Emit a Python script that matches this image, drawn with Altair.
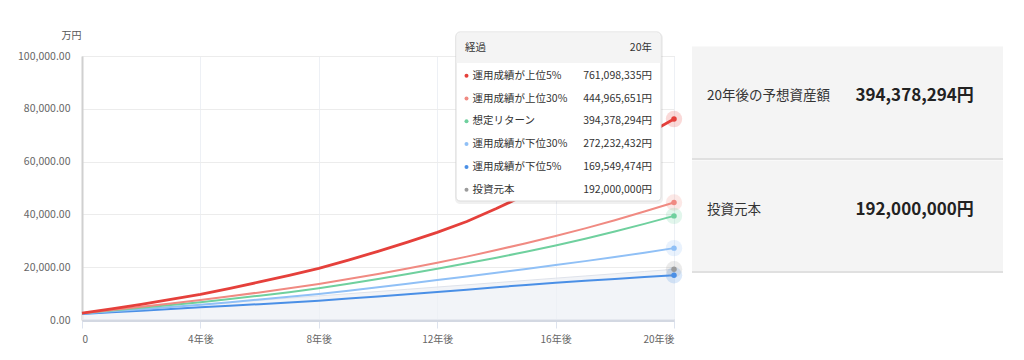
import altair as alt
import pandas as pd

# ---- data (万円) ----
years = list(range(21))
top5 = [2600, 4250, 5950, 7800, 9730, 12000, 14400, 16900, 19580, 22700, 26000,
        29500, 33200, 37300, 42200, 47500, 52800, 58300, 63900, 69800, 76110]
top30 = [2600, 3800, 5000, 6250, 7580, 9000, 10450, 12000, 13640, 15500, 17450,
         19500, 21700, 24000, 26500, 29100, 31820, 34700, 37800, 41100, 44497]
expected = [2600, 3600, 4600, 5650, 6750, 7950, 9200, 10550, 12000, 13700, 15500,
            17400, 19400, 21500, 23600, 25850, 28200, 30800, 33500, 36400, 39438]
low30 = [2500, 3300, 4100, 4950, 5800, 6750, 7750, 8800, 9850, 11100, 12400,
         13750, 15150, 16500, 17900, 19350, 20830, 22300, 23850, 25500, 27223]
low5 = [2300, 2900, 3500, 4150, 4800, 5400, 6000, 6650, 7320, 8100, 8900,
        9750, 10600, 11500, 12400, 13300, 14140, 14850, 15550, 16250, 16955]
principal = [2400, 3240, 4080, 4920, 5760, 6600, 7440, 8280, 9120, 9960, 10800,
             11640, 12480, 13320, 14160, 15000, 15840, 16680, 17520, 18360, 19200]

series_names = ["運用成績が上位5%", "運用成績が上位30%", "想定リターン",
                "運用成績が下位30%", "運用成績が下位5%", "投資元本"]
series_colors = ["#e5403b", "#f08a82", "#6fd09e", "#90c0f6", "#4a8fe6", "#9b9b9b"]
series_widths = [2.8, 2, 2, 2, 2, 1]
tooltip_values = ["761,098,335円", "444,965,651円", "394,378,294円",
                  "272,232,432円", "169,549,474円", "192,000,000円"]
x_ticks = [0, 4, 8, 12, 16, 20]
y_ticks = [0, 20000, 40000, 60000, 80000, 100000]
panel_labels = ["20年後の予想資産額", "投資元本"]
panel_values = ["394,378,294円", "192,000,000円"]

FONT = "Noto Sans CJK JP"
W, H = 592, 264

all_series = [top5, top30, expected, low30, low5, principal]
rows = []
for name, vals in zip(series_names, all_series):
    for yr, v in zip(years, vals):
        rows.append({"year": yr, "series": name, "value": v})
df = pd.DataFrame(rows)

xscale = alt.Scale(domain=[0, 20], nice=False)
yscale = alt.Scale(domain=[0, 100000], nice=False)
cscale = alt.Scale(domain=series_names, range=series_colors)

xenc = alt.X("year:Q", scale=xscale,
             axis=alt.Axis(values=x_ticks, title=None,
                           labelExpr="datum.value == 0 ? '0' : datum.value + '年後'",
                           grid=True, gridColor="#edf0f5", gridWidth=1,
                           domainColor="#d3d8e2", domainWidth=3,
                           tickColor="#dde3ee", tickSize=8, tickWidth=1,
                           labelColor="#666", labelFontSize=10, labelPadding=6,
                           labelFont=FONT))
yenc = alt.Y("value:Q", scale=yscale,
             axis=alt.Axis(values=y_ticks, format=",.2f", title="万円",
                           titleAngle=0, titleX=-1, titleY=-21, titleAlign="right",
                           titleBaseline="middle", titleFontSize=10,
                           titleFontWeight="normal", titleColor="#555", titleFont=FONT,
                           grid=True, gridColor="#ececec", gridWidth=1,
                           domainColor="#d0d0d0", domainWidth=2, ticks=False,
                           labelColor="#666", labelFontSize=10.5, labelPadding=12,
                           labelFont=FONT))

base = alt.Chart(df)

area = base.transform_filter(alt.datum.series == "投資元本").mark_area(
    color="#edf0f5", line={"color": "#dfe3eb", "strokeWidth": 1}
).encode(x=xenc, y=yenc, y2=alt.datum(0))

layers = [area]
for name, w in zip(["運用成績が下位5%", "運用成績が下位30%", "想定リターン",
                    "運用成績が上位30%", "運用成績が上位5%"],
                   [2, 2, 2, 2, 2.8]):
    layers.append(
        base.transform_filter(alt.datum.series == name).mark_line(strokeWidth=w).encode(
            x="year:Q", y="value:Q",
            color=alt.Color("series:N", scale=cscale, legend=None))
    )

ends = base.transform_filter(alt.datum.year == 20)
halo = ends.mark_circle(size=270, opacity=0.2).encode(
    x="year:Q", y="value:Q", color=alt.Color("series:N", scale=cscale, legend=None))
dots = ends.mark_circle(size=30, opacity=1).encode(
    x="year:Q", y="value:Q", color=alt.Color("series:N", scale=cscale, legend=None))
layers += [halo, dots]

one = alt.Chart(pd.DataFrame({"a": [0]}))

# tooltip box
layers.append(one.mark_rect(fill="#000", opacity=0.06, cornerRadius=5).encode(
    x=alt.value(373), x2=alt.value(581), y=alt.value(-23), y2=alt.value(148)))
layers.append(one.mark_rect(fill="white", stroke="#dcdcdc", strokeWidth=1, cornerRadius=4).encode(
    x=alt.value(374), x2=alt.value(579), y=alt.value(-24), y2=alt.value(145)))
layers.append(one.mark_rect(fill="#f4f4f4", cornerRadiusTopLeft=4, cornerRadiusTopRight=4).encode(
    x=alt.value(374.5), x2=alt.value(578.5), y=alt.value(-23.5), y2=alt.value(7)))
layers.append(one.mark_text(align="left", baseline="middle", fontSize=10.5, color="#333", font=FONT).encode(
    x=alt.value(383), y=alt.value(-8), text=alt.value("経過")))
layers.append(one.mark_text(align="right", baseline="middle", fontSize=10.5, color="#333", font=FONT).encode(
    x=alt.value(570), y=alt.value(-8), text=alt.value("20年")))
for i, (name, col, val) in enumerate(zip(series_names, series_colors, tooltip_values)):
    ty = 19.7 + 22.8 * i
    layers.append(one.mark_circle(size=16, color=col, opacity=1).encode(
        x=alt.value(384.5), y=alt.value(ty)))
    layers.append(one.mark_text(align="left", baseline="middle", fontSize=10.5, color="#333", font=FONT).encode(
        x=alt.value(390.5), y=alt.value(ty), text=alt.value(name)))
    layers.append(one.mark_text(align="right", baseline="middle", fontSize=10.5, color="#333", font=FONT).encode(
        x=alt.value(570), y=alt.value(ty), text=alt.value(val)))

# right panels
panel_tops = [-9.5, 104.5]
panel_bottoms = [102, 215]
for top, bot, lab, val in zip(panel_tops, panel_bottoms, panel_labels, panel_values):
    layers.append(one.mark_rect(fill="#f4f4f4").encode(
        x=alt.value(610), x2=alt.value(921), y=alt.value(top), y2=alt.value(bot)))
    layers.append(one.mark_rule(color="#e0e0e0", strokeWidth=2).encode(
        x=alt.value(610), x2=alt.value(921), y=alt.value(bot + 1)))
    mid = (top + bot) / 2 - 6
    layers.append(one.mark_text(align="left", baseline="middle", fontSize=13.5, color="#333", font=FONT).encode(
        x=alt.value(625), y=alt.value(mid), text=alt.value(lab)))
    layers.append(one.mark_text(align="left", baseline="middle", fontSize=17, fontWeight="bold",
                                color="#222", font=FONT).encode(
        x=alt.value(773.5), y=alt.value(mid), text=alt.value(val)))

chart = alt.layer(*layers).properties(
    width=W, height=H,
    autosize=alt.AutoSizeParams(type="none"),
    padding={"left": 74, "top": 48, "right": 340, "bottom": 36},
).configure_view(stroke="#dedede", strokeWidth=1.5).configure(font=FONT)

chart.save("out.html", embed_options={"renderer": "svg", "actions": False})
